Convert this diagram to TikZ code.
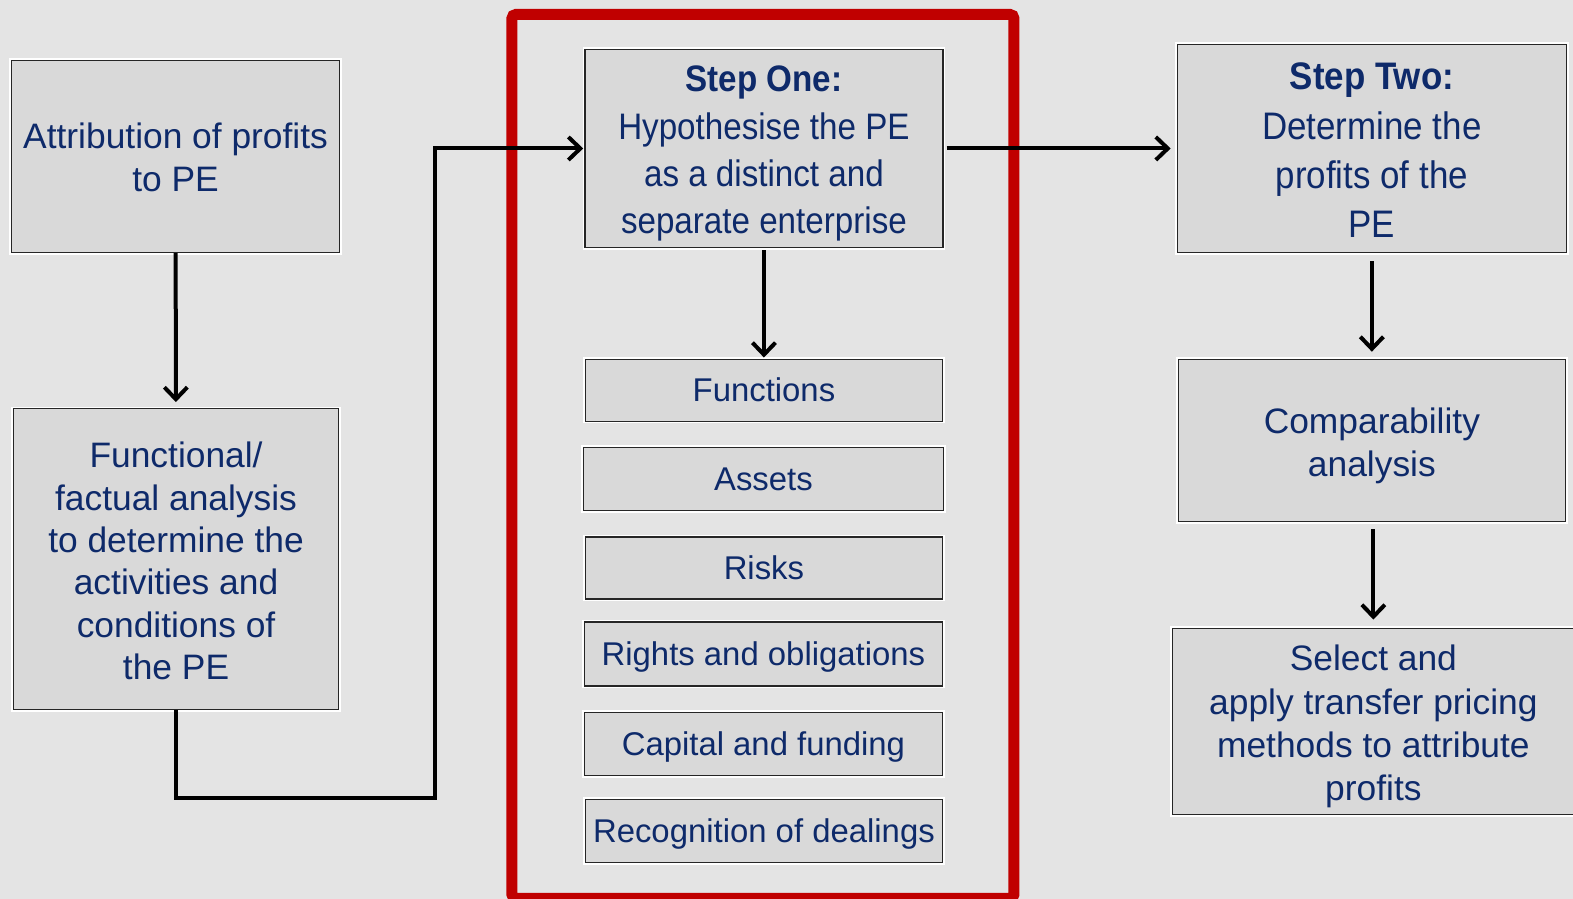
\documentclass[tikz,border=0pt]{standalone}
\usepackage{fontspec}
\setmainfont{Liberation Sans}
\newfontfamily\narrowf[FakeStretch=0.9]{Liberation Sans}
\newfontfamily\narrowg[FakeStretch=0.91]{Liberation Sans}
\usetikzlibrary{arrows.meta}
\definecolor{bg}{HTML}{E4E4E4}
\definecolor{boxgray}{HTML}{D9D9D9}
\definecolor{navy}{HTML}{0E2A6A}
\definecolor{framered}{HTML}{C00000}
\newcommand{\boxlines}[2][5.5bp]{\raisebox{-#1}[\height][\depth]{\begin{tabular}{@{}c@{}}#2\end{tabular}}}
\tikzset{
  box/.style={draw=black!85, fill=boxgray, line width=1.4bp,
    preaction={draw=white, line width=4.5bp},
    inner sep=0pt, align=center, text=navy},
  bigtext/.style={font=\fontsize{35.5}{42.5}\selectfont},
  selecttext/.style={font=\fontsize{35.5}{43.5}\selectfont},
  smalltext/.style={font=\fontsize{33}{40}\selectfont, text height=29.9bp, text depth=7bp},
  onetext/.style={font=\narrowf\fontsize{37}{47.5}\selectfont},
  twotext/.style={font=\narrowg\fontsize{38.5}{49.5}\selectfont},
  conn/.style={draw=black, line width=4bp,
    -{Straight Barb[length=12bp,width=23bp,line width=4bp]}},
  redframe/.style={draw=framered, line width=11bp, rounded corners=4bp, inner sep=0pt}
}
\begin{document}
\begin{tikzpicture}[x=1.0032bp,y=-1.0032bp]
\useasboundingbox (0,0) rectangle (1568,896);
\fill[bg] (0,0) rectangle (1568,896);

% red frame
\node[redframe, minimum width=502bp, minimum height=884bp] (frame) at (760.5,455) {};

% left column
\node[box, bigtext, minimum width=328bp, minimum height=192bp] (attr) at (175,156)
  {\boxlines[5bp]{Attribution of profits\\to PE}};
\node[box, bigtext, minimum width=325bp, minimum height=301bp] (func) at (175.5,557.5)
  {\boxlines[6bp]{Functional/\\factual analysis\\to determine the\\activities and\\conditions of\\the PE}};

% middle column
\node[box, onetext, minimum width=358bp, minimum height=198bp] (stepone) at (761.5,148)
  {\boxlines[5bp]{\textbf{Step One:}\\Hypothesise the PE\\as a distinct and\\separate enterprise}};
\node[box, smalltext, minimum width=357bp, minimum height=62bp] (functions) at (761.5,389) {Functions};
\node[box, smalltext, minimum width=360bp, minimum height=63bp] (assets) at (761,477.5) {Assets};
\node[box, smalltext, minimum width=357bp, minimum height=62bp] (risks) at (761.5,566) {Risks};
\node[box, smalltext, minimum width=358bp, minimum height=64bp] (rights) at (761,652) {Rights and obligations};
\node[box, smalltext, minimum width=358bp, minimum height=63bp] (capital) at (761,741.5) {Capital and funding};
\node[box, smalltext, minimum width=357bp, minimum height=63bp] (recog) at (761.5,828.5) {Recognition of dealings};

% right column
\node[box, twotext, minimum width=389bp, minimum height=208bp] (steptwo) at (1367.5,148)
  {\boxlines[5.5bp]{\textbf{Step Two:}\\Determine the\\profits of the\\PE}};
\node[box, bigtext, minimum width=387bp, minimum height=162bp] (compar) at (1367.5,439)
  {\boxlines[6bp]{Comparability\\analysis}};
\node[box, selecttext, minimum width=402bp, minimum height=186bp] (select) at (1369,719)
  {\boxlines[6bp]{Select and\\apply transfer pricing\\methods to attribute\\profits}};

% connectors
\coordinate (c1) at (434,795);
\draw[conn, shorten >=6bp] (attr) -- (func);
\draw[conn, shorten >=1bp] (func.south) |- (c1) |- (stepone.west);
\draw[conn, shorten <=2bp, shorten >=1bp] (stepone.south -| functions.north) -- (functions.north);
\draw[conn, shorten <=3bp, shorten >=6bp] (stepone.east) -- (steptwo.west);
\draw[conn, shorten <=8bp, shorten >=7bp] (steptwo.south) -- (compar.north);
\draw[conn, shorten <=7bp, shorten >=8bp] (compar.south -| select.north) -- (select.north);
\end{tikzpicture}
\end{document}
